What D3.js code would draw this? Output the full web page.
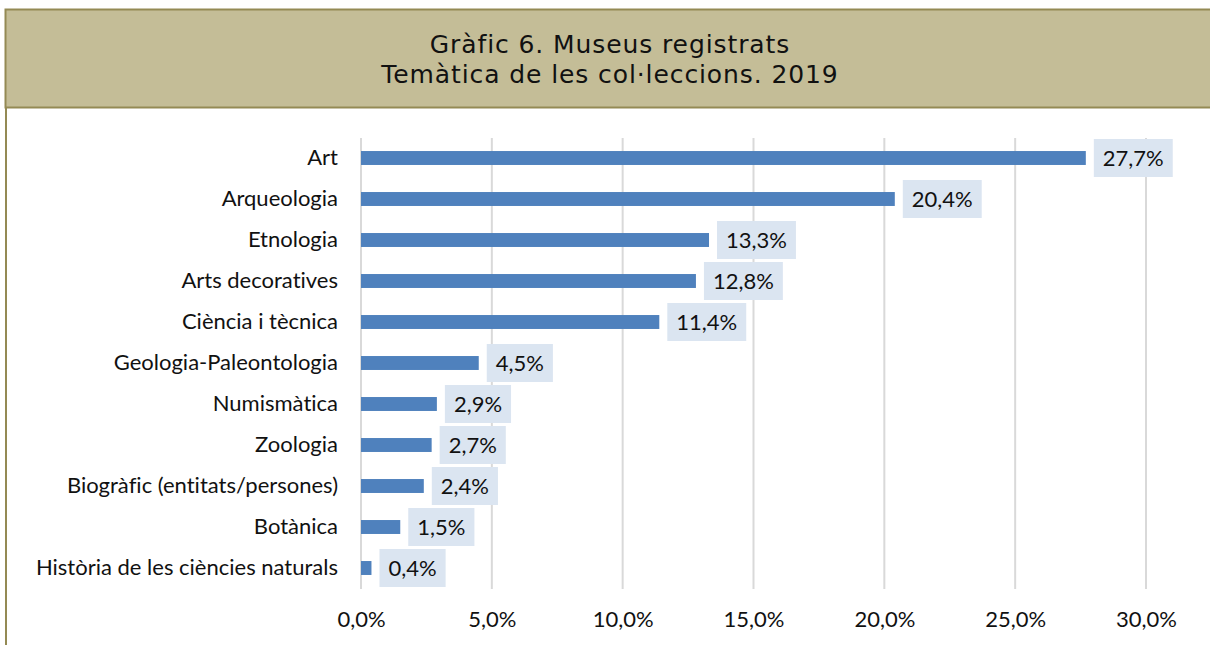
<!DOCTYPE html>
<html>
<head>
<meta charset="utf-8">
<script src="https://cdn.jsdelivr.net/npm/d3@7"></script>
<style>
html,body{margin:0;padding:0;background:#fff;}
svg{display:block;}
text{font-variant-ligatures:none;font-feature-settings:"liga" 0,"clig" 0;}
</style>
</head>
<body>
<svg id="chart" width="1210" height="645"></svg>
<script>
const titleLines = ["Gràfic 6. Museus registrats", "Temàtica de les col·leccions. 2019"];
const categories = ["Art","Arqueologia","Etnologia","Arts decoratives","Ciència i tècnica","Geologia-Paleontologia","Numismàtica","Zoologia","Biogràfic (entitats/persones)","Botànica","Història de les ciències naturals"];
const values = [27.7,20.4,13.3,12.8,11.4,4.5,2.9,2.7,2.4,1.5,0.4];
const tickValues = [0,5,10,15,20,25,30];

const svg = d3.select("#chart");
const fmt = v => d3.format(".1f")(v).replace(".", ",") + "%";
const FONT = "Lato, sans-serif";
const FS = 22;

// header
svg.append("rect").attr("x",5.5).attr("y",9.5).attr("width",1220).attr("height",98)
  .attr("fill","#c4bd97").attr("stroke","#948a54").attr("stroke-width",2);
svg.append("line").attr("x1",6).attr("x2",6).attr("y1",107).attr("y2",645)
  .attr("stroke","#948a54").attr("stroke-width",2);
svg.selectAll("text.title").data(titleLines).join("text").attr("class","title")
  .attr("x",610).attr("y",(d,i)=>53+i*30).attr("text-anchor","middle")
  .attr("font-family","DejaVu Sans, Verdana, sans-serif").attr("font-size",25)
  .attr("letter-spacing",0.9).attr("fill","#111")
  .text(d=>d);

const x = d3.scaleLinear().domain([0,30]).range([361,1146]);
const y = d3.scaleBand().domain(categories).range([137.5,588.5]).paddingInner(0.66).paddingOuter(0.33);

// gridlines
svg.append("g").selectAll("line").data(tickValues).join("line")
  .attr("x1",d=>x(d)).attr("x2",d=>x(d)).attr("y1",138).attr("y2",589)
  .attr("stroke","#d9d9d9").attr("stroke-width",2);

// x axis labels
const xAxis = d3.axisBottom(x).tickValues(tickValues).tickSize(0).tickPadding(0).tickFormat(fmt);
const gx = svg.append("g").attr("transform","translate(0,608)").call(xAxis);
gx.select(".domain").remove();
gx.selectAll("text").attr("font-family",FONT).attr("font-size",FS).attr("fill","#111").attr("dy","0.88em");

// y axis labels
const yAxis = d3.axisLeft(y).tickSize(0).tickPadding(0);
const gy = svg.append("g").attr("transform","translate(338,0)").call(yAxis);
gy.select(".domain").remove();
gy.selectAll("text").attr("font-family",FONT).attr("font-size",FS).attr("fill","#111");

// bars
svg.append("g").selectAll("rect").data(values).join("rect")
  .attr("x",x(0)).attr("y",(d,i)=>y(categories[i]))
  .attr("width",d=>x(d)-x(0)).attr("height",y.bandwidth())
  .attr("fill","#4f81bd");

// value labels
const lg = svg.append("g").selectAll("g").data(values).join("g")
  .attr("transform",(d,i)=>`translate(${x(d)+8},${y(categories[i])+y.bandwidth()/2})`);
lg.append("text").attr("x",9).attr("dy","0.35em")
  .attr("font-family",FONT).attr("font-size",FS).attr("fill","#111")
  .text(d=>fmt(d));
lg.each(function(){
  const g = d3.select(this);
  const w = g.select("text").node().getComputedTextLength();
  g.insert("rect","text").attr("x",0).attr("y",-19).attr("width",w+18).attr("height",38).attr("fill","#dbe5f1");
});
</script>
</body>
</html>
